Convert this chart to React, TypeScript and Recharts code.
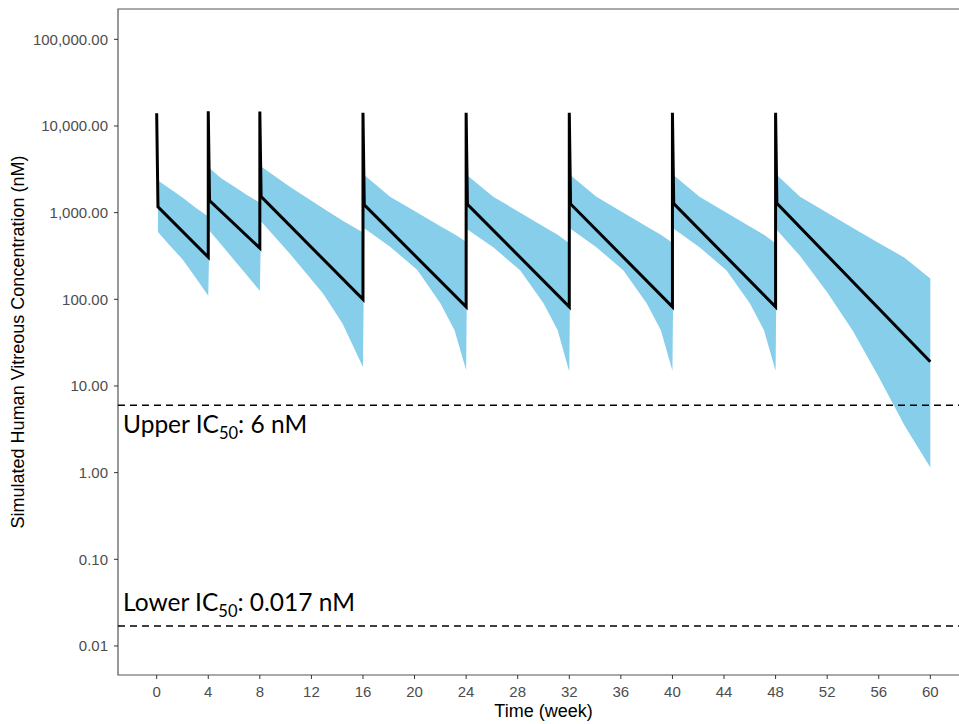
import React from 'react';
import {
    Area,
    ComposedChart,
    Label,
    Line,
    ReferenceArea,
    ReferenceLine,
    XAxis,
    YAxis,
} from 'recharts';

// median simulated concentration (black line)
const lineWeek = [0, 0.1, 4, 4, 4.1, 8, 8, 8.1, 16, 16, 16.1, 24, 24, 24.1, 32, 32, 32.1, 40, 40, 40.1, 48, 48, 48.1, 60];
const lineConc = [14000, 1170, 306, 14800, 1380, 390, 14700, 1530, 100, 14200, 1230, 82, 14200, 1250, 82, 14200, 1260, 82, 14200, 1270, 82, 14200, 1280, 19];

// prediction interval (blue ribbon)
const bandWeek = [
    0.1, 1, 2, 3, 4,
    4.1, 5, 6, 7, 8,
    8.1, 10.3, 12.9, 14.4, 16,
    16.1, 18.1, 20.2, 22, 23.1, 24,
    24.1, 26.1, 28.2, 30, 31.1, 32,
    32.1, 34.1, 36.2, 38, 39.1, 40,
    40.1, 42.1, 44.2, 46, 47.1, 48,
    48.1, 49.9, 52, 54, 56, 58, 60,
];
const bandLow = [
    600, 420, 290, 180, 110,
    620, 430, 285, 190, 125,
    790, 340, 117, 53, 16.6,
    660, 405, 219, 90, 44, 15.3,
    640, 400, 215, 90, 44, 14.6,
    650, 400, 215, 90, 44, 15,
    650, 400, 215, 90, 44, 15,
    630, 316, 121, 43, 12.7, 3.5, 1.15,
];
const bandHigh = [
    2350, 1900, 1500, 1150, 900,
    3250, 2500, 2000, 1600, 1300,
    3400, 2000, 1125, 813, 590,
    2720, 1530, 1005, 697, 562, 463,
    2690, 1530, 1000, 690, 555, 445,
    2700, 1530, 1000, 690, 555, 450,
    2700, 1530, 1000, 690, 555, 445,
    2720, 1530, 1000, 665, 447, 302, 174,
];

const xTicks = [0, 4, 8, 12, 16, 20, 24, 28, 32, 36, 40, 44, 48, 52, 56, 60];
const yTicks = [0.01, 0.1, 1, 10, 100, 1000, 10000, 100000];

const upperIC50 = 6;
const lowerIC50 = 0.017;

const lineData = lineWeek.map((w, i) => ({ week: w, conc: lineConc[i] }));
const bandData = bandWeek.map((w, i) => ({ week: w, range: [bandLow[i], bandHigh[i]] }));

const axisFont = "'Liberation Sans', Arial, sans-serif";
const noteFont = "Lato, 'Open Sans', sans-serif";

const fmt = (v: number) =>
    v.toLocaleString('en-US', { minimumFractionDigits: 2, maximumFractionDigits: 2 });

function icLabel(prefix: string, suffix: string, dy: number) {
    return (props: any) => {
        const vb = props.viewBox || {};
        return (
            <text x={vb.x + 5} y={vb.y + dy} fontFamily={noteFont} fontSize={24.5} fill='#000'>
                <tspan>{prefix} IC</tspan>
                <tspan fontSize={16.5} dy={6}>50</tspan>
                <tspan dy={-6}>{suffix}</tspan>
            </text>
        );
    };
}

function App() {
    return (
        <div
            style={{
                position: 'fixed',
                left: 0,
                top: 0,
                width: 959,
                height: 724,
                overflow: 'hidden',
                background: '#fff',
            }}
        >
            <ComposedChart width={969} height={724} margin={{ top: 9, right: 0, bottom: 0, left: 0 }}>
                <XAxis
                    dataKey='week'
                    type='number'
                    domain={[-3, 63]}
                    ticks={xTicks}
                    allowDataOverflow
                    height={49}
                    axisLine={false}
                    tickSize={4}
                    tickMargin={7}
                    tickLine={{ stroke: '#333' }}
                    tick={{ fill: '#4d4d4d', fontSize: 15, fontFamily: axisFont }}
                >
                    <Label
                        content={(props: any) => {
                            const vb = props.viewBox || {};
                            return (
                                <text
                                    x={vb.x + vb.width / 2}
                                    y={vb.y + 42}
                                    textAnchor='middle'
                                    fontFamily={axisFont}
                                    fontSize={18}
                                    fill='#000'
                                >
                                    Time (week)
                                </text>
                            );
                        }}
                    />
                </XAxis>
                <YAxis
                    type='number'
                    scale='log'
                    domain={[0.004624, 223870]}
                    ticks={yTicks}
                    allowDataOverflow
                    width={118}
                    axisLine={false}
                    tickSize={4}
                    tickMargin={6}
                    tickLine={{ stroke: '#333' }}
                    tickFormatter={fmt}
                    tick={{ fill: '#4d4d4d', fontSize: 15, fontFamily: axisFont }}
                >
                    <Label
                        content={(props: any) => {
                            const vb = props.viewBox || {};
                            const cx = vb.x + 18;
                            const cy = vb.y + vb.height / 2;
                            return (
                                <text
                                    x={cx}
                                    y={cy}
                                    transform={`rotate(-90, ${cx}, ${cy})`}
                                    textAnchor='middle'
                                    dominantBaseline='central'
                                    fontFamily={axisFont}
                                    fontSize={18}
                                    fill='#000'
                                >
                                    Simulated Human Vitreous Concentration (nM)
                                </text>
                            );
                        }}
                    />
                </YAxis>
                <Area
                    data={bandData}
                    dataKey='range'
                    type='linear'
                    stroke='none'
                    fill='#87CEEB'
                    fillOpacity={1}
                    isAnimationActive={false}
                />
                <Line
                    data={lineData}
                    dataKey='conc'
                    type='linear'
                    stroke='#000'
                    strokeWidth={3}
                    dot={false}
                    activeDot={false}
                    isAnimationActive={false}
                />
                <ReferenceLine
                    y={upperIC50}
                    stroke='#000'
                    strokeWidth={1.5}
                    strokeDasharray='7 5'
                    label={icLabel('Upper', ': 6 nM', 28)}
                />
                <ReferenceLine
                    y={lowerIC50}
                    stroke='#000'
                    strokeWidth={1.5}
                    strokeDasharray='7 5'
                    label={icLabel('Lower', ': 0.017 nM', -15)}
                />
                <ReferenceArea
                    x1={-3}
                    x2={63}
                    y1={0.004624}
                    y2={223870}
                    fill='none'
                    stroke='#555'
                    strokeWidth={1.2}
                />
            </ComposedChart>
        </div>
    );
}

export default App;
